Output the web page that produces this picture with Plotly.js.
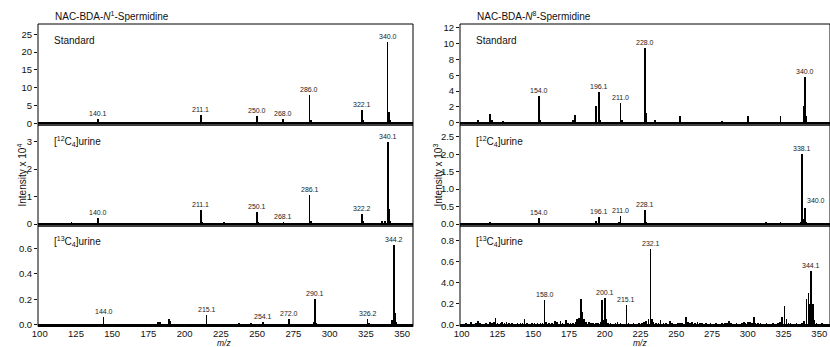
<!DOCTYPE html>
<html>
<head>
<meta charset="utf-8">
<script src="https://cdn.plot.ly/plotly-3.0.1.min.js"></script>
<style>
  html, body { margin: 0; padding: 0; background: #fff; }
  #chart { width: 830px; height: 347px; }
</style>
</head>
<body>
<div id="chart"></div>
<script>
// ---- NAC-BDA-N1-Spermidine ----
const n1StdMz  = [108, 112, 115, 120, 122, 129, 139, 140.1, 141, 152, 155, 163, 165, 170, 176, 177, 179, 184, 193, 194, 200, 210, 211.1, 212, 222, 224, 226, 228, 232, 235, 241, 243, 250.0, 251, 262, 268.0, 269, 286.0, 287, 296, 304, 316, 322.1, 323, 338, 340.0, 341, 342];
const n1StdInt = [0.2, 0.3, 0.2, 0.2, 0.35, 0.25, 0.4, 1.3, 0.3, 0.15, 0.15, 0.25, 0.2, 0.15, 0.3, 0.3, 0.25, 0.15, 0.3, 0.3, 0.1, 0.4, 2.3, 0.5, 0.3, 0.45, 0.4, 0.25, 0.3, 0.2, 0.3, 0.3, 2.0, 0.5, 0.15, 1.1, 0.3, 8.0, 1.0, 0.1, 0.1, 0.1, 3.7, 0.8, 0.3, 22.8, 3.2, 0.9];
const n1StdLabels = [140.1, 211.1, 250.0, 268.0, 286.0, 322.1, 340.0];

const n1UrMz  = [104, 112.7, 116, 122, 132, 139, 140.0, 141, 150, 161, 168, 176, 185, 197, 205, 210, 211.1, 212, 220, 227, 234, 240, 249, 250.1, 251, 260, 268.1, 275, 281, 286.1, 287, 292, 298, 305, 311, 321, 322.2, 323, 336, 338, 340.1, 341, 342];
const n1UrInt = [0.02, 0.05, 0.04, 0.07, 0.02, 0.04, 0.23, 0.04, 0.02, 0.04, 0.02, 0.04, 0.02, 0.03, 0.02, 0.04, 0.51, 0.06, 0.02, 0.06, 0.04, 0.02, 0.05, 0.43, 0.08, 0.02, 0.09, 0.02, 0.03, 1.06, 0.1, 0.02, 0.03, 0.02, 0.04, 0.04, 0.36, 0.1, 0.1, 0.12, 2.98, 0.54, 0.1];
const n1UrLabels = [140.0, 211.1, 250.1, 268.1, 286.1, 322.2, 340.1];

const n1IsoMz  = [102, 110, 125, 128.7, 136, 143, 144.0, 145, 160, 170, 180, 181.5, 183, 189, 190, 197, 205, 214, 215.1, 216, 223, 230.6, 237.6, 245.6, 253, 254.1, 255, 262, 271, 272.0, 273, 282, 289, 290.1, 291, 300, 312, 325, 326.2, 327, 336, 343, 344.2, 345, 346];
const n1IsoInt = [0.005, 0.005, 0.01, 0.01, 0.005, 0.01, 0.06, 0.01, 0.005, 0.005, 0.01, 0.02, 0.025, 0.045, 0.03, 0.01, 0.005, 0.01, 0.075, 0.01, 0.01, 0.01, 0.015, 0.012, 0.01, 0.025, 0.01, 0.005, 0.01, 0.05, 0.01, 0.005, 0.02, 0.2, 0.015, 0.005, 0.005, 0.01, 0.05, 0.015, 0.005, 0.04, 0.63, 0.09, 0.02];
const n1IsoLabels = [144.0, 215.1, 254.1, 272.0, 290.1, 326.2, 344.2];

// ---- NAC-BDA-N8-Spermidine ----
const n8StdMz  = [104, 108, 111.6, 116, 119.7, 121.3, 125, 129, 134, 140, 146, 150, 154.0, 155, 160, 165, 169, 173, 177.7, 179.4, 186, 190, 194, 196.1, 197, 203, 207, 211.0, 212, 218, 223, 228.0, 229, 235, 241, 247, 252.5, 258, 264.6, 270, 276, 282, 283.5, 290, 295, 300, 306, 312, 318, 322.8, 330, 335, 339, 340.0, 341, 347];
const n8StdInt = [0.1, 0.15, 0.4, 0.1, 1.1, 0.3, 0.1, 0.2, 0.1, 0.15, 0.1, 0.1, 3.4, 0.3, 0.1, 0.1, 0.15, 0.1, 0.4, 1.0, 0.1, 0.1, 2.1, 3.9, 0.3, 0.1, 0.1, 2.5, 0.3, 0.1, 0.15, 9.45, 1.2, 0.4, 0.1, 0.15, 0.85, 0.1, 0.15, 0.1, 0.1, 0.25, 0.15, 0.1, 0.1, 0.85, 0.1, 0.1, 0.1, 0.9, 0.1, 0.1, 2.1, 5.85, 0.8, 0.1];
const n8StdLabels = [154.0, 196.1, 211.0, 228.0, 340.0];

const n8UrMz  = [104, 112, 119.7, 127.9, 136, 145, 154.0, 155, 165, 172, 177.7, 186, 194, 196.1, 203, 210, 211.0, 218, 228.1, 229, 240, 253, 265, 275, 282, 292, 300, 301.5, 312.8, 318, 322.8, 330, 337, 338.1, 339.2, 340.0, 341];
const n8UrInt = [0.02, 0.02, 0.05, 0.02, 0.02, 0.02, 0.16, 0.03, 0.02, 0.02, 0.03, 0.02, 0.09, 0.21, 0.02, 0.05, 0.23, 0.02, 0.40, 0.05, 0.02, 0.03, 0.02, 0.02, 0.04, 0.02, 0.03, 0.02, 0.06, 0.02, 0.05, 0.02, 0.05, 2.02, 0.15, 0.47, 0.06];
const n8UrLabels = [154.0, 196.1, 211.0, 228.1, 338.1, 340.0];

const n8IsoMz  = [101, 103, 105, 106.5, 108, 110, 111.6, 113, 115, 117, 119.7, 121, 122.5, 123.7, 125, 127, 128.3, 130, 131.3, 133, 135, 137, 139, 141, 142.5, 144, 145.5, 147, 149, 151, 153, 155, 156.5, 158.0, 159, 161, 163, 165, 166.5, 169, 170.5, 173, 174.5, 176, 178, 179.5, 180.8, 182, 183.5, 184.5, 185.5, 187, 189, 190.5, 192, 194, 195.5, 197, 198, 199, 200.1, 201, 202.5, 204, 206, 207.5, 209, 211, 213, 215.1, 216.5, 218, 220, 222, 224, 226, 227.5, 229, 230.5, 232.1, 233, 234, 236, 237.5, 239, 241, 243, 245.7, 247, 249, 251, 252.5, 254, 256.7, 258, 259.5, 261, 263, 264.8, 266.5, 268, 270.6, 272, 274, 276, 278, 280, 282, 284, 285.5, 286.8, 288.5, 290, 292, 294, 296, 297.2, 298.5, 300, 301.5, 303, 304.2, 305.5, 307, 309, 311, 313, 315, 317.7, 319.5, 321, 322.5, 324, 325.8, 327, 328.5, 330, 332, 334, 336, 338, 339.5, 341, 342.5, 343.3, 344.1, 345.5, 346.5, 348, 350, 352, 354];
const n8IsoInt = [0.01, 0.015, 0.01, 0.03, 0.012, 0.015, 0.04, 0.015, 0.01, 0.015, 0.03, 0.015, 0.03, 0.07, 0.02, 0.015, 0.03, 0.02, 0.03, 0.015, 0.02, 0.01, 0.015, 0.02, 0.015, 0.06, 0.02, 0.01, 0.015, 0.02, 0.015, 0.02, 0.02, 0.235, 0.03, 0.015, 0.02, 0.04, 0.025, 0.04, 0.02, 0.05, 0.02, 0.015, 0.02, 0.03, 0.06, 0.07, 0.25, 0.12, 0.06, 0.03, 0.03, 0.02, 0.015, 0.02, 0.02, 0.03, 0.24, 0.05, 0.26, 0.06, 0.02, 0.015, 0.01, 0.015, 0.03, 0.015, 0.01, 0.19, 0.02, 0.01, 0.015, 0.01, 0.015, 0.02, 0.025, 0.04, 0.06, 0.72, 0.06, 0.03, 0.02, 0.02, 0.05, 0.015, 0.02, 0.04, 0.015, 0.01, 0.015, 0.02, 0.015, 0.08, 0.03, 0.015, 0.03, 0.02, 0.03, 0.015, 0.02, 0.02, 0.01, 0.015, 0.01, 0.015, 0.01, 0.015, 0.02, 0.02, 0.035, 0.015, 0.01, 0.015, 0.01, 0.02, 0.03, 0.02, 0.025, 0.03, 0.02, 0.08, 0.02, 0.015, 0.02, 0.01, 0.015, 0.01, 0.015, 0.01, 0.02, 0.03, 0.08, 0.18, 0.06, 0.02, 0.015, 0.01, 0.015, 0.01, 0.02, 0.04, 0.25, 0.30, 0.2, 0.51, 0.2, 0.05, 0.02, 0.01, 0.015, 0.01];
const n8IsoLabels = [158.0, 200.1, 215.1, 232.1, 344.1];

// ---- axes ----
const xTicks = [100, 125, 150, 175, 200, 225, 250, 275, 300, 325, 350];
const yTicksN1Std = [0, 5, 10, 15, 20, 25];
const yTicksN1Ur  = [0, 1, 2, 3];
const yTicksN1Iso = [0, 0.2, 0.4, 0.6];
const yTextN1Iso  = ['0.0', '0.2', '0.4', '0.6'];
const yTicksN8Std = [0, 2, 4, 6, 8, 10, 12];
const yTicksN8Ur  = [0, 0.5, 1.0, 1.5, 2.0, 2.5];
const yTextN8Ur   = ['0.0', '0.5', '1.0', '1.5', '2.0', '2.5'];
const yTicksN8Iso = [0, 0.2, 0.4, 0.6, 0.8];
const yTextN8Iso  = ['0.0', '0.2', '4.0', '0.6', '0.8'];

const panelNames = ['Standard', '[<sup>12</sup>C<sub>4</sub>]urine', '[<sup>13</sup>C<sub>4</sub>]urine'];
const compoundNames = ['NAC-BDA-<i>N</i><sup>1</sup>-Spermidine', 'NAC-BDA-<i>N</i><sup>8</sup>-Spermidine'];

const W = 830, H = 347;
const FONT = 'Liberation Sans, Arial, sans-serif';
const INK = '#111';

// pixel layout of the panel grid
const colX = [[38, 413], [460, 830]];
const rowY = [[24, 125], [125, 226], [226, 326.5]];
const px2x = p => p / W;
const px2y = p => 1 - p / H;

const panels = [
  { col: 0, row: 0, mz: n1StdMz, val: n1StdInt, labels: n1StdLabels, range: [-0.48, 27.9], tv: yTicksN1Std },
  { col: 0, row: 1, mz: n1UrMz,  val: n1UrInt,  labels: n1UrLabels,  range: [-0.073, 3.61], tv: yTicksN1Ur },
  { col: 0, row: 2, mz: n1IsoMz, val: n1IsoInt, labels: n1IsoLabels, range: [-0.012, 0.775], tv: yTicksN1Iso, tt: yTextN1Iso },
  { col: 1, row: 0, mz: n8StdMz, val: n8StdInt, labels: n8StdLabels, range: [-0.29, 12.5], tv: yTicksN8Std },
  { col: 1, row: 1, mz: n8UrMz,  val: n8UrInt,  labels: n8UrLabels,  range: [-0.057, 2.84], tv: yTicksN8Ur, tt: yTextN8Ur },
  { col: 1, row: 2, mz: n8IsoMz, val: n8IsoInt, labels: n8IsoLabels, range: [-0.014, 0.939], tv: yTicksN8Iso, tt: yTextN8Iso }
];

const traces = [];
const annotations = [];
const shapes = [];
const layout = {
  width: W, height: H,
  margin: { l: 0, r: 0, t: 0, b: 0 },
  paper_bgcolor: '#fff', plot_bgcolor: '#fff',
  showlegend: false,
  bargap: 0,
  font: { family: FONT, size: 9.5, color: INK }
};

const tickFont = { family: FONT, size: 9.5, color: INK };

[0, 1].forEach(c => {
  const key = c === 0 ? 'xaxis' : 'xaxis2';
  layout[key] = {
    domain: [px2x(colX[c][0]), px2x(colX[c][1])],
    anchor: c === 0 ? 'y3' : 'y6',
    range: [98.8, 357.5],
    tickmode: 'array', tickvals: xTicks, ticktext: xTicks.map(String),
    ticks: 'inside', ticklen: 2, tickwidth: 1, tickcolor: INK,
    tickfont: tickFont,
    showgrid: false, zeroline: false, showline: false,
    fixedrange: true
  };
});

panels.forEach((p, i) => {
  const n = i + 1;
  const xa = p.col === 0 ? 'x' : 'x2';
  const ya = n === 1 ? 'y' : 'y' + n;
  const yKey = n === 1 ? 'yaxis' : 'yaxis' + n;

  layout[yKey] = {
    domain: [px2y(rowY[p.row][1]), px2y(rowY[p.row][0])],
    anchor: xa,
    range: p.range,
    tickmode: 'array', tickvals: p.tv, ticktext: p.tt || p.tv.map(String),
    ticks: 'outside', ticklen: 3, tickwidth: 1, tickcolor: INK,
    tickfont: tickFont,
    showgrid: false, showline: false,
    zeroline: true, zerolinecolor: '#000', zerolinewidth: 1.6,
    fixedrange: true
  };

  traces.push({
    type: 'bar', x: p.mz, y: p.val, xaxis: xa, yaxis: ya,
    width: 1.15,
    marker: { color: '#000', line: { width: 0 } },
    hoverinfo: 'x+y'
  });

  // panel frame
  shapes.push({
    type: 'rect', xref: xa + ' domain', yref: ya + ' domain',
    x0: 0, x1: 1, y0: 0, y1: 1,
    line: { color: '#000', width: 1 }, layer: 'above'
  });

  // sample label
  annotations.push({
    text: panelNames[p.row], xref: xa + ' domain', yref: ya + ' domain',
    x: 0.038, y: p.row === 2 ? 0.85 : 0.84, xanchor: 'left', yanchor: 'middle',
    showarrow: false, font: { family: FONT, size: 10, color: INK }
  });

  // peak labels, placed on the peak with the same m/z
  p.labels.forEach(m => {
    const k = p.mz.indexOf(m);
    const offRight = (p.col === 1 && p.row === 1 && m === 340.0);
    annotations.push({
      text: m.toFixed(1), xref: xa, yref: ya,
      x: m, y: p.val[k],
      xanchor: offRight ? 'left' : 'center', yanchor: 'bottom',
      yshift: offRight ? 2 : 0,
      showarrow: false, font: { family: FONT, size: 7, color: '#222' }
    });
  });
});

// compound titles
compoundNames.forEach((t, c) => {
  annotations.push({
    text: t, xref: 'paper', yref: 'paper',
    x: px2x(colX[c][0] + 14.5), y: px2y(16), xanchor: 'left', yanchor: 'middle',
    showarrow: false, font: { family: FONT, size: 10, color: INK }
  });
});

// y-axis titles
['Intensity x 10<sup>4</sup>', 'Intensity x 10<sup>3</sup>'].forEach((t, c) => {
  annotations.push({
    text: t, xref: 'paper', yref: 'paper', textangle: -90,
    x: px2x(c === 0 ? 21 : 437), y: px2y(175.5), xanchor: 'center', yanchor: 'middle',
    showarrow: false, font: { family: FONT, size: 10, color: INK }
  });
});

// x-axis titles
[0, 1].forEach(c => {
  annotations.push({
    text: '<i>m/z</i>', xref: 'paper', yref: 'paper',
    x: px2x((colX[c][0] + colX[c][1]) / 2 - (c === 0 ? 2 : 5)), y: px2y(342.5), xanchor: 'center', yanchor: 'middle',
    showarrow: false, font: { family: FONT, size: 8.5, color: INK }
  });
});

layout.annotations = annotations;
layout.shapes = shapes;

Plotly.newPlot('chart', traces, layout, { displayModeBar: false, staticPlot: true });
</script>
</body>
</html>
